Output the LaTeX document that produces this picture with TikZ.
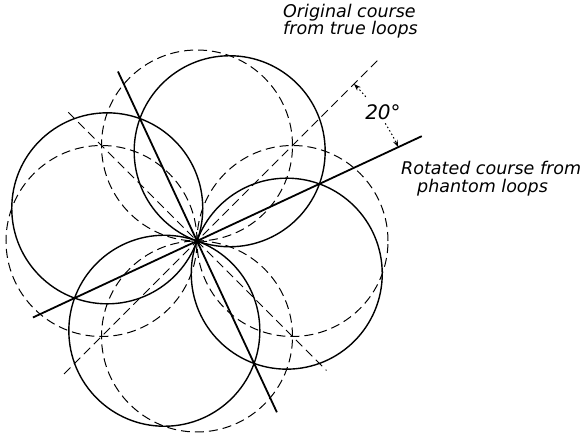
\documentclass[tikz,border=0pt]{standalone}
\usepackage{fontspec}
\newfontfamily\lblfont{DejaVu Sans}
\usetikzlibrary{calc,arrows.meta}
\tikzset{
  loopsolid/.style={line width=1.4pt},
  loopdashed/.style={line width=1pt, dash pattern=on 9pt off 5pt},
  coursesolid/.style={line width=1.8pt},
  coursedashed/.style={line width=1pt, dash pattern=on 9pt off 5pt},
  anglearc/.style={line width=1pt, dash pattern=on 1.5pt off 2.5pt, -{Stealth[length=7pt,width=5pt]}},
  label/.style={font=\lblfont\itshape\fontsize{17.5}{15}\selectfont, inner sep=0pt, align=left},
}
\begin{document}
\begin{tikzpicture}[x=1pt,y=1pt]
\useasboundingbox (0,0) rectangle (581,433);
\coordinate (O) at (197,192);
\def\rr{95.5}
% solid circles (phantom loops)
\foreach \a in {70,-20,160,250}
  \draw[loopsolid] ($(O)+(\a:\rr)$) circle[radius=\rr];
% dashed circles (true loops)
\foreach \a in {0,90,180,270}
  \draw[loopdashed] ($(O)+(\a:\rr)$) circle[radius=\rr];
% courses
\coordinate (r1) at ($(O)+(205:181)$);
\coordinate (r2) at ($(O)+(25:248)$);
\coordinate (p1) at ($(O)+(115:187)$);
\coordinate (p2) at ($(O)+(295:189)$);
\coordinate (d1) at ($(O)+(225:188)$);
\coordinate (d2) at ($(O)+(45:257)$);
\coordinate (q1) at ($(O)+(135:182)$);
\coordinate (q2) at ($(O)+(315:183)$);
\draw[coursesolid] (r1) -- (r2);
\draw[coursesolid] (p1) -- (p2);
\draw[coursedashed] (d1) -- (d2);
\draw[coursedashed] (q1) -- (q2);
% angle dimension
\coordinate (a1) at ($(O)+(40.5:222)$);
\coordinate (a2) at ($(O)+(32:222)$);
\draw[anglearc] (a1) arc[start angle=40.5, end angle=45, radius=222];
\draw[anglearc] (a2) arc[start angle=32, end angle=25, radius=222];
\node[font=\lblfont\itshape\fontsize{20}{20}\selectfont, inner sep=0pt] (ang) at (383,321) {20°};
% labels
\node[label, anchor=base west] (orig) at (283,398) {Original course\\from true loops};
\node[label, anchor=base west] (rot) at (401,240) {Rotated course from\\[3pt]\hspace*{16pt}phantom loops};
\end{tikzpicture}
\end{document}
